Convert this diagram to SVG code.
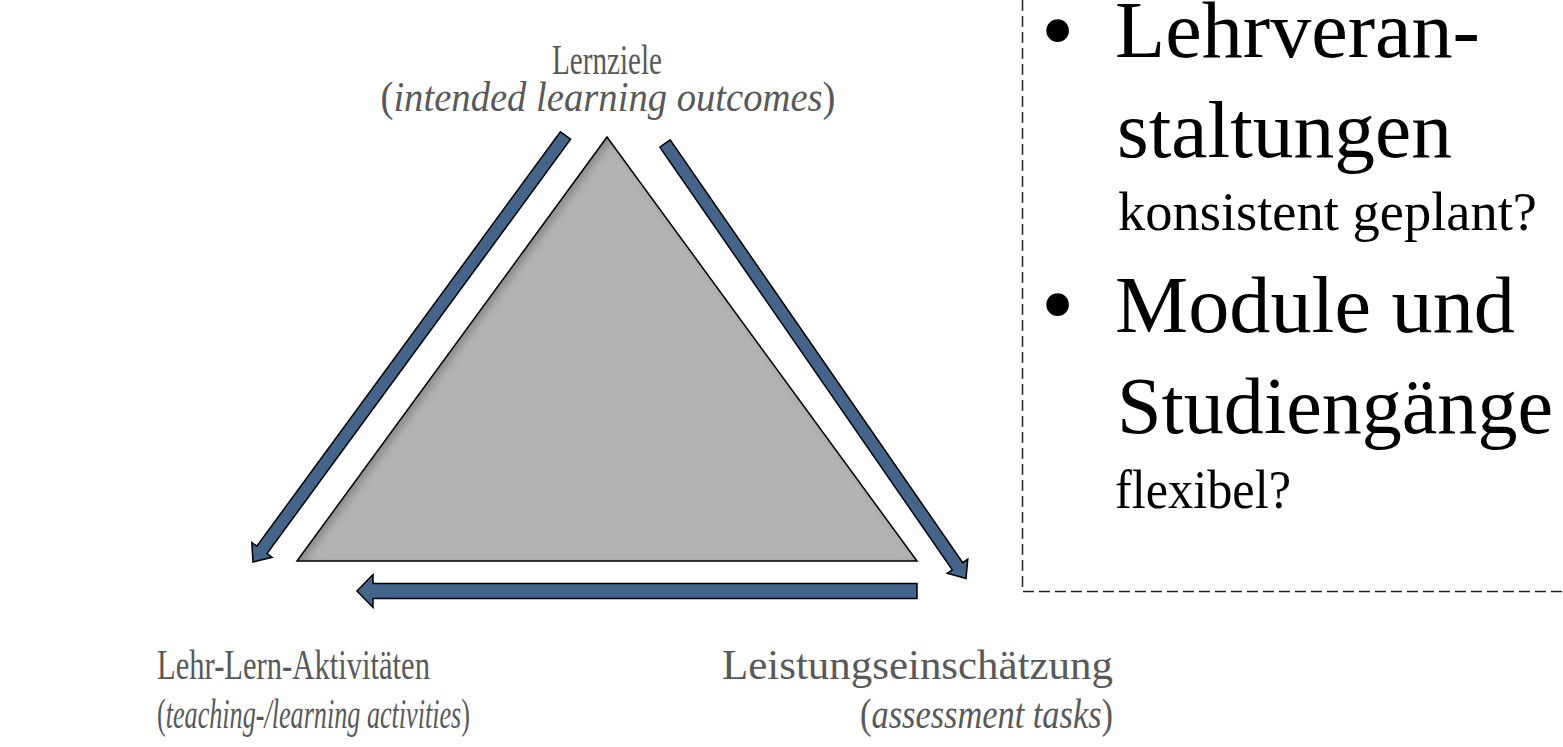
<svg xmlns="http://www.w3.org/2000/svg" width="1563" height="747" viewBox="0 0 1563 747">
  <style>
    .lbl { font-family: "Liberation Serif", "Times New Roman", serif; fill: #595959; font-size: 42px; }
    .it { font-style: italic; }
    .big { font-family: "Liberation Serif", "Times New Roman", serif; fill: #000; font-size: 81px; }
    .small { font-family: "Liberation Serif", "Times New Roman", serif; fill: #000; font-size: 54px; }
    .bullet { font-family: "Liberation Serif", "Times New Roman", serif; fill: #000; font-size: 95px; }
    .arrow { fill: #45648a; stroke: #000; stroke-width: 1.5; stroke-linejoin: miter; }
    .box { fill: none; stroke: #222; stroke-width: 1.5; stroke-dasharray: 11 5; }
  </style>
  <defs>
    <filter id="innerShadow" x="-5%" y="-5%" width="110%" height="110%">
      <feOffset in="SourceAlpha" dx="5" dy="3" result="off"/>
      <feGaussianBlur in="off" stdDeviation="4" result="blur"/>
      <feComposite in="SourceAlpha" in2="blur" operator="out" result="edge"/>
      <feFlood flood-color="#000" flood-opacity="0.45"/>
      <feComposite in2="edge" operator="in" result="shadow"/>
      <feMerge>
        <feMergeNode in="SourceGraphic"/>
        <feMergeNode in="shadow"/>
      </feMerge>
    </filter>
  </defs>

  <g id="triangle">
    <polygon points="607,137 297,561 917,561" fill="#b3b3b3" filter="url(#innerShadow)"/>
    <polygon points="607,137 297,561 917,561" fill="none" stroke="#000" stroke-width="1.5"/>
  </g>

  <g id="connectors">
    <polygon class="arrow" points="560.4,131.8 570.6,139.2 267.0,553.6 272.0,557.3 253,562 251.8,542.5 256.8,546.2"/>
    <polygon class="arrow" points="670.2,139.9 962.7,562.6 967.8,559.1 966,578.5 947.2,573.3 952.3,569.8 659.8,147.1"/>
    <polygon class="arrow" points="917,583.5 373,583.5 373,574.5 357,591 373,607.5 373,598.5 917,598.5"/>
  </g>

  <g id="node-lernziele">
    <text class="lbl" x="607" y="74" text-anchor="middle" textLength="110" lengthAdjust="spacingAndGlyphs">Lernziele</text>
    <text class="lbl" x="608" y="111" text-anchor="middle" textLength="455" lengthAdjust="spacingAndGlyphs">(<tspan class="it">intended learning outcomes</tspan>)</text>
  </g>

  <g id="node-aktivitaeten">
    <text class="lbl" x="157" y="679" textLength="273" lengthAdjust="spacingAndGlyphs">Lehr-Lern-Aktivitäten</text>
    <text class="lbl" x="157" y="728" textLength="313" lengthAdjust="spacingAndGlyphs">(<tspan class="it">teaching-/learning activities</tspan>)</text>
  </g>

  <g id="node-leistung">
    <text class="lbl" x="722" y="679" textLength="391" lengthAdjust="spacingAndGlyphs">Leistungseinschätzung</text>
    <text class="lbl" x="860" y="728" textLength="253" lengthAdjust="spacingAndGlyphs">(<tspan class="it">assessment tasks</tspan>)</text>
  </g>

  <g id="box">
    <path class="box" d="M1022.5,0 V591.5 H1563"/>
    <text class="bullet" x="1041" y="62">•</text>
    <text class="big" x="1115" y="57" textLength="365" lengthAdjust="spacingAndGlyphs">Lehrveran-</text>
    <text class="big" x="1117" y="157" textLength="335" lengthAdjust="spacingAndGlyphs">staltungen</text>
    <text class="small" x="1118" y="230" textLength="419" lengthAdjust="spacingAndGlyphs">konsistent geplant?</text>
    <text class="bullet" x="1041" y="336">•</text>
    <text class="big" x="1115" y="332" textLength="400" lengthAdjust="spacingAndGlyphs">Module und</text>
    <text class="big" x="1117" y="433" textLength="436" lengthAdjust="spacingAndGlyphs">Studiengänge</text>
    <text class="small" x="1115" y="508" textLength="176" lengthAdjust="spacingAndGlyphs">flexibel?</text>
  </g>
</svg>
